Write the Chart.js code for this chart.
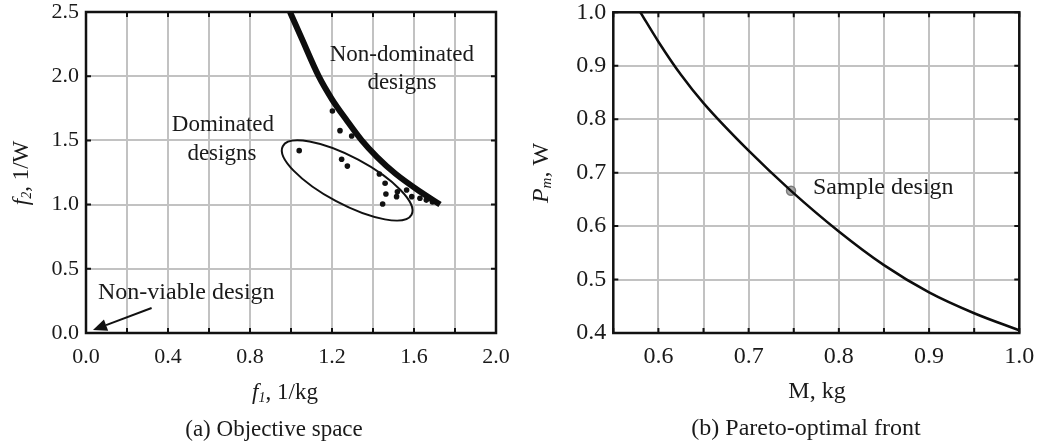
<!DOCTYPE html>
<html lang="en">
<head>
<meta charset="UTF-8" />
<title>Objective space and Pareto-optimal front</title>
<script src="https://cdn.jsdelivr.net/npm/chart.js"></script>
<style>
  html, body { margin: 0; padding: 0; background: #fff; }
  #wrap { position: relative; width: 1043px; height: 445px; }
  #leftBox { position: absolute; left: 0; top: 0; width: 530px; height: 445px; }
  #rightBox { position: absolute; left: 530px; top: 0; width: 513px; height: 445px; }
</style>
</head>
<body>
<div id="wrap">
  <div id="leftBox"><canvas id="objChart"></canvas></div>
  <div id="rightBox"><canvas id="paretoChart"></canvas></div>
</div>
<script>
// (a) objective space: f1 = 1/M [1/kg], f2 = 1/P [1/W]
const frontF1 = [0.995, 1.052, 1.135, 1.20, 1.27, 1.345, 1.42, 1.51, 1.64, 1.727];
const frontF2 = [2.50, 2.295, 2.00, 1.82, 1.66, 1.50, 1.37, 1.24, 1.09, 1.00];
const domF1 = [1.202, 1.239, 1.296, 1.040, 1.247, 1.275, 1.431, 1.459, 1.463, 1.447, 1.519, 1.515, 1.564, 1.589, 1.629, 1.66, 1.69];
const domF2 = [1.729, 1.576, 1.534, 1.420, 1.353, 1.300, 1.238, 1.166, 1.083, 1.005, 1.100, 1.062, 1.114, 1.062, 1.049, 1.035, 1.02];
const objXLabels = [0.0, 0.4, 0.8, 1.2, 1.6, 2.0];
const objYLabels = [0.0, 0.5, 1.0, 1.5, 2.0, 2.5];

// (b) Pareto-optimal front: mass M [kg] vs power P [W]
const massM = [0.580, 0.600, 0.625, 0.650, 0.700, 0.747, 0.800, 0.850, 0.900, 0.950, 1.000];
const powerP = [1.000, 0.945, 0.883, 0.830, 0.741, 0.666, 0.590, 0.527, 0.476, 0.437, 0.405];
const sampleM = [0.747];
const sampleP = [0.666];
const parXLabels = [0.6, 0.7, 0.8, 0.9, 1.0];
const parYLabels = [0.4, 0.5, 0.6, 0.7, 0.8, 0.9, 1.0];

const serif = "'Liberation Serif', 'Times New Roman', serif";
const ink = '#1a1a1a';

function pts(xs, ys) {
  return xs.map((v, i) => ({ x: v, y: ys[i] }));
}

function axis(min, max, step, labelled, size, pad, fitFn) {
  return {
    type: 'linear', min, max,
    ticks: {
      stepSize: step, padding: pad, color: ink, autoSkip: false,
      maxRotation: 0, minRotation: 0,
      font: { family: serif, size },
      callback: v => {
        const hit = labelled.find(l => Math.abs(l - v) < 1e-6);
        return hit === undefined ? '' : hit.toFixed(1);
      }
    },
    grid: { color: '#c2c2c2', lineWidth: 2, drawTicks: false },
    border: { display: false },
    afterFit: fitFn
  };
}

function fixWidth(w) {
  return s => { s.width = w; s.paddingTop = 0; s.paddingBottom = 0; };
}
function fixHeight(h) {
  return s => { s.height = h; s.paddingLeft = 0; s.paddingRight = 0; };
}

// text made of roman / italic / italic-subscript pieces
function richText(ctx, parts, x, y, size, align) {
  const fontFor = st => (st ? 'italic ' : '') + Math.round(st === 's' ? size * 0.62 : size) + 'px ' + serif;
  let total = 0;
  parts.forEach(([t, st]) => { ctx.font = fontFor(st); total += ctx.measureText(t).width; });
  let cx = align === 'center' ? x - total / 2 : x;
  ctx.textAlign = 'left';
  ctx.textBaseline = 'middle';
  ctx.fillStyle = ink;
  parts.forEach(([t, st]) => {
    ctx.font = fontFor(st);
    ctx.fillText(t, cx, st === 's' ? y + size * 0.22 : y);
    cx += ctx.measureText(t).width;
  });
}

function frame(chart) {
  const { ctx, chartArea: a, scales: { x, y } } = chart;
  ctx.save();
  ctx.strokeStyle = '#111';
  ctx.lineWidth = 2;
  ctx.beginPath();
  x.ticks.forEach(t => {
    const px = x.getPixelForValue(t.value);
    ctx.moveTo(px, a.bottom); ctx.lineTo(px, a.bottom - 5);
    ctx.moveTo(px, a.top); ctx.lineTo(px, a.top + 5);
  });
  y.ticks.forEach(t => {
    const py = y.getPixelForValue(t.value);
    ctx.moveTo(a.left, py); ctx.lineTo(a.left + 5, py);
    ctx.moveTo(a.right, py); ctx.lineTo(a.right - 5, py);
  });
  ctx.stroke();
  ctx.lineWidth = 2.5;
  ctx.strokeRect(a.left, a.top, a.right - a.left, a.bottom - a.top);
  ctx.restore();
}

const objDecor = {
  id: 'objDecor',
  afterDraw(chart) {
    const { ctx, scales: { x, y } } = chart;
    frame(chart);
    ctx.save();
    // ellipse round the dominated designs (major axis ends in data units)
    const e1 = [0.96, 1.455], e2 = [1.588, 0.921];
    const x1 = x.getPixelForValue(e1[0]), y1 = y.getPixelForValue(e1[1]);
    const x2 = x.getPixelForValue(e2[0]), y2 = y.getPixelForValue(e2[1]);
    ctx.strokeStyle = '#111';
    ctx.lineWidth = 2;
    ctx.beginPath();
    ctx.ellipse((x1 + x2) / 2, (y1 + y2) / 2, Math.hypot(x2 - x1, y2 - y1) / 2, 23.5,
      Math.atan2(y2 - y1, x2 - x1), 0, Math.PI * 2);
    ctx.stroke();

    // arrow to the non-viable design at the origin
    const sx = x.getPixelForValue(0.32), sy = y.getPixelForValue(0.195);
    const tx = x.getPixelForValue(0.034), ty = y.getPixelForValue(0.023);
    const ang = Math.atan2(ty - sy, tx - sx);
    const hl = 14, hw = 6;
    const bx = tx - hl * Math.cos(ang), by = ty - hl * Math.sin(ang);
    ctx.beginPath();
    ctx.moveTo(sx, sy); ctx.lineTo(bx, by);
    ctx.stroke();
    ctx.fillStyle = '#111';
    ctx.beginPath();
    ctx.moveTo(tx, ty);
    ctx.lineTo(bx + hw * Math.sin(ang), by - hw * Math.cos(ang));
    ctx.lineTo(bx - hw * Math.sin(ang), by + hw * Math.cos(ang));
    ctx.closePath();
    ctx.fill();

    // notes
    const fs = 23;
    richText(ctx, [['Non-dominated', '']], x.getPixelForValue(1.541), y.getPixelForValue(2.165), fs, 'center');
    richText(ctx, [['designs', '']], x.getPixelForValue(1.541), y.getPixelForValue(1.947), fs, 'center');
    richText(ctx, [['Dominated', '']], x.getPixelForValue(0.668), y.getPixelForValue(1.62), fs, 'center');
    richText(ctx, [['designs', '']], x.getPixelForValue(0.663), y.getPixelForValue(1.394), fs, 'center');
    richText(ctx, [['Non-viable design', '']], x.getPixelForValue(0.0585), y.getPixelForValue(0.3115), 24, 'left');

    // axis titles and caption
    richText(ctx, [['f', 'i'], ['1', 's'], [', 1/kg', '']], 285, 393, fs, 'center');
    richText(ctx, [['(a) Objective space', '']], 274, 430, fs, 'center');
    ctx.translate(22, 173);
    ctx.rotate(-Math.PI / 2);
    richText(ctx, [['f', 'i'], ['2', 's'], [', 1/W', '']], 0, 0, fs, 'center');
    ctx.restore();
  }
};

const parDecor = {
  id: 'parDecor',
  afterDraw(chart) {
    const { ctx, scales: { x, y } } = chart;
    frame(chart);
    ctx.save();
    const fs = 24;
    richText(ctx, [['Sample design', '']], x.getPixelForValue(0.7713), y.getPixelForValue(0.6713), fs, 'left');
    richText(ctx, [['M, kg', '']], 287, 392, fs, 'center');
    richText(ctx, [['(b) Pareto-optimal front', '']], 276, 429, fs, 'center');
    ctx.translate(12, 173);
    ctx.rotate(-Math.PI / 2);
    richText(ctx, [['P', 'i'], ['m', 's'], [', W', '']], 0, 0, fs, 'center');
    ctx.restore();
  }
};

const common = {
  animation: false,
  responsive: true,
  maintainAspectRatio: false,
  plugins: { legend: { display: false }, tooltip: { enabled: false } }
};

new Chart(document.getElementById('objChart'), {
  type: 'scatter',
  data: {
    datasets: [
      {
        label: 'Non-dominated designs',
        data: pts(frontF1, frontF2),
        showLine: true,
        borderColor: '#0d0d0d',
        borderWidth: 6,
        cubicInterpolationMode: 'monotone',
        pointRadius: 0
      },
      {
        label: 'Dominated designs',
        data: pts(domF1, domF2),
        showLine: false,
        pointRadius: 2.8,
        pointBackgroundColor: '#111',
        pointBorderWidth: 0
      }
    ]
  },
  options: {
    ...common,
    layout: { padding: { top: 12, right: 34, left: 0, bottom: 0 } },
    scales: {
      x: axis(0, 2.0, 0.2, objXLabels, 22, 11, fixHeight(112)),
      y: axis(0, 2.5, 0.5, objYLabels, 22, 7, fixWidth(86))
    }
  },
  plugins: [objDecor]
});

new Chart(document.getElementById('paretoChart'), {
  type: 'scatter',
  data: {
    datasets: [
      {
        label: 'Pareto-optimal front',
        data: pts(massM, powerP),
        showLine: true,
        borderColor: '#0d0d0d',
        borderWidth: 2.5,
        cubicInterpolationMode: 'monotone',
        pointRadius: 0,
        order: 0
      },
      {
        label: 'Sample design',
        data: pts(sampleM, sampleP),
        pointRadius: 4.5,
        pointBackgroundColor: 'rgba(140,140,140,0.75)',
        pointBorderColor: '#7a7a7a',
        pointBorderWidth: 1.5,
        order: 1
      }
    ]
  },
  options: {
    ...common,
    layout: { padding: { top: 12.3, right: 23.7, left: 0, bottom: 0 } },
    scales: {
      x: axis(0.55, 1.0, 0.05, parXLabels, 24, 9, fixHeight(112)),
      y: axis(0.4, 1.0, 0.1, parYLabels, 24, 7, fixWidth(83.3))
    }
  },
  plugins: [parDecor]
});
</script>
</body>
</html>
